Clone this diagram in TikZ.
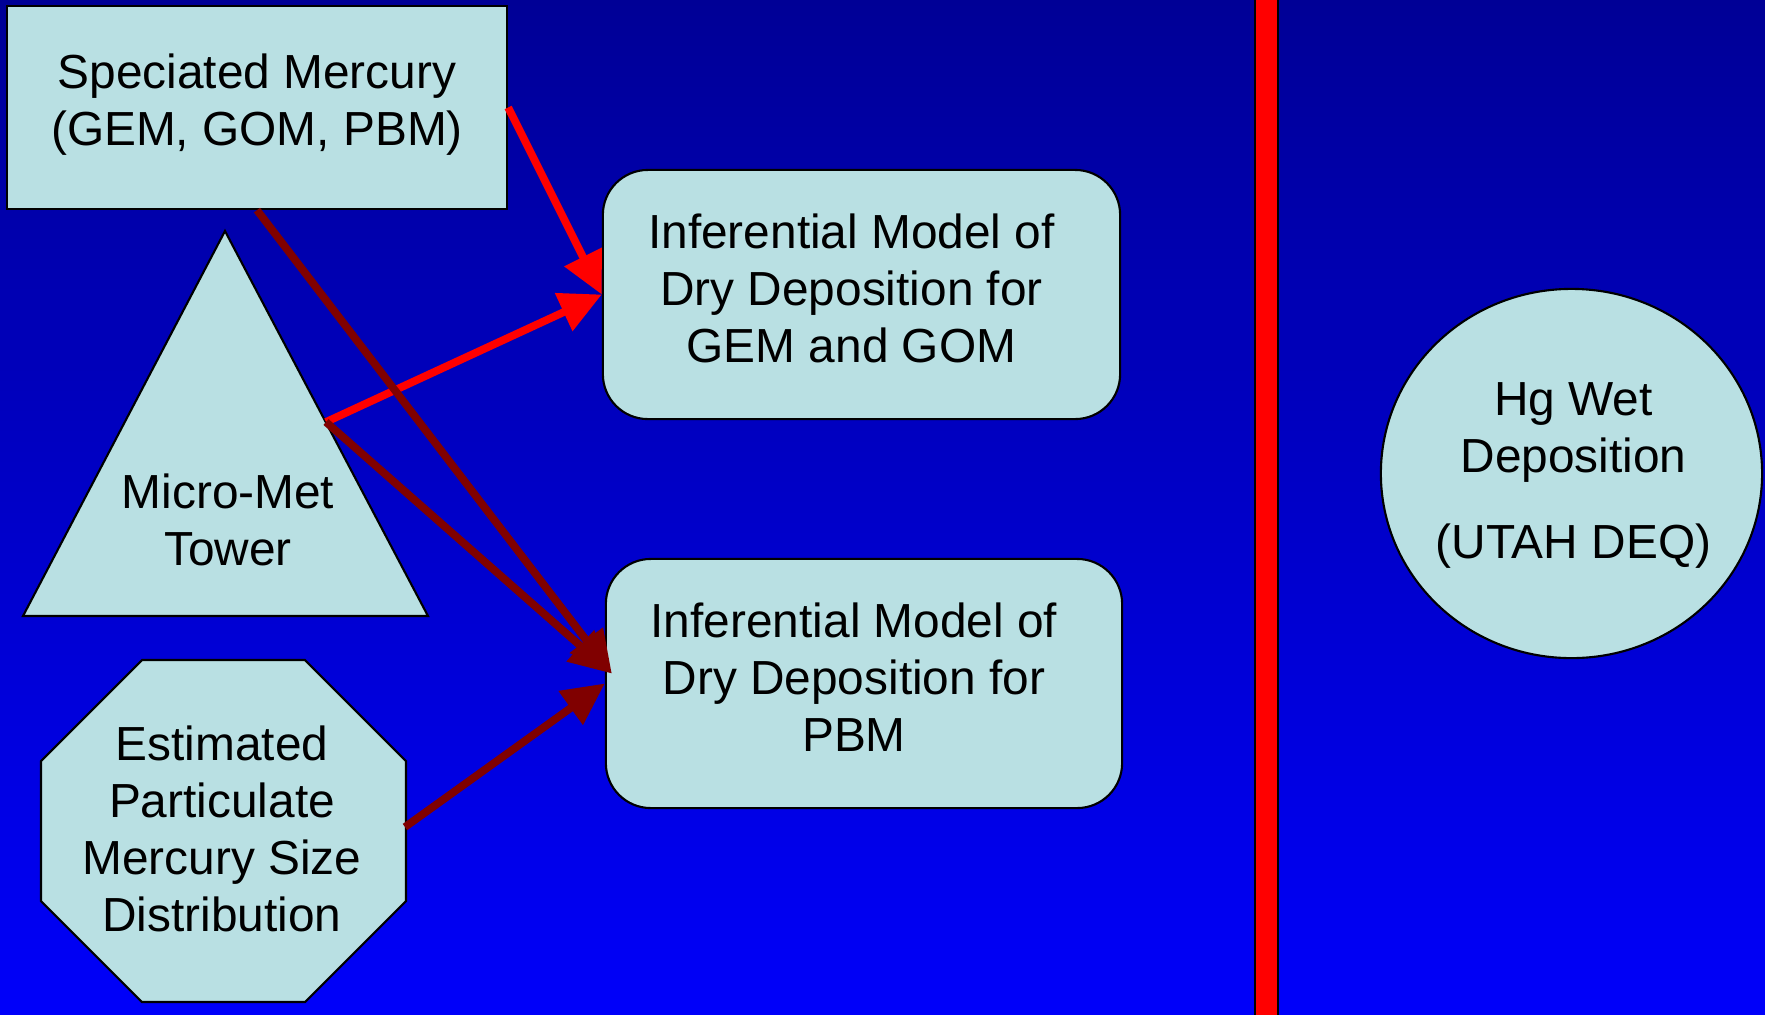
\documentclass[tikz,border=0pt]{standalone}
\usepackage{fontspec}
\setmainfont{Liberation Sans}
\usetikzlibrary{arrows.meta,shapes.geometric}
\definecolor{boxcyan}{RGB}{185,224,227}
\definecolor{slidetop}{RGB}{0,0,150}
\definecolor{slidebottom}{RGB}{0,0,250}
\definecolor{darkred}{RGB}{128,0,0}

\begin{document}
\begin{tikzpicture}[x=0.01cm, y=-0.01cm,
    fillshape/.style={draw, fill=boxcyan, line width=0.6pt},
    modelbox/.style={fillshape, rounded corners=0.45cm, minimum width=5.17cm, minimum height=2.49cm},
    txt/.style={align=center, font=\fontsize{13.6}{16.2}\selectfont},
    redarrow/.style={draw=red, line width=2.2pt, -{Triangle[length=0.42cm, width=0.4cm]}, red},
    darkarrow/.style={draw=darkred, line width=2.2pt, -{Triangle[length=0.42cm, width=0.4cm]}, darkred}]
    \useasboundingbox (0,0) rectangle (1765,1014);
    \shade[top color=slidetop, bottom color=slidebottom] (0,0) rectangle (1765,1014);

    \node[fillshape, minimum width=5cm, minimum height=2.03cm] (spec) at (257,107.5) {};
    \node[txt] (spectext) at ([shift={(0,-3)}]spec.center) {Speciated Mercury\\(GEM, GOM, PBM)};

    \draw[fillshape] (225,231) -- (428,616) -- (23,616) -- cycle;
    \node[txt] (tower) at (228,520) {Micro-Met\\Tower};
    \coordinate (towerside) at (326,422);

    \draw[fillshape] (142,660) -- (305,660) -- (406,761) -- (406,901) -- (305,1002) -- (142,1002) -- (41,901) -- (41,761) -- cycle;
    \node[txt] (size) at (222,829) {Estimated\\Particulate\\Mercury Size\\Distribution};
    \coordinate (sizeside) at (405,827);

    \node[modelbox] (gemgom) at (861.5,294.5) {};
    \node[txt] (gemgomtext) at ([shift={(-10,-6)}]gemgom.center) {Inferential Model of\\Dry Deposition for\\GEM and GOM};
    \node[modelbox, minimum width=5.16cm] (pbm) at (864,683.5) {};
    \node[txt] (pbmtext) at ([shift={(-10,-6)}]pbm.center) {Inferential Model of\\Dry Deposition for\\PBM};

    \draw[fill=red, line width=0.6pt] (1255,-5) rectangle (1278,1019);

    \node[fillshape, ellipse, minimum width=3.81cm, minimum height=3.69cm] (wet) at (1571.5,473.5) {};
    \node[txt] (wettext) at ([shift={(2,2)}]wet.center) {Hg Wet\\Deposition\\[0.3cm](UTAH DEQ)};

    \draw[redarrow] (spec.east) -- (gemgom.west);
    \draw[redarrow] (towerside) -- (gemgom.west);
    \draw[darkarrow] (spec.south) -- ([shift={(7,-10)}]pbm.west);
    \draw[darkarrow] (towerside) -- ([shift={(7,-10)}]pbm.west);
    \draw[darkarrow] (sizeside) -- (pbm.west);
\end{tikzpicture}
\end{document}
